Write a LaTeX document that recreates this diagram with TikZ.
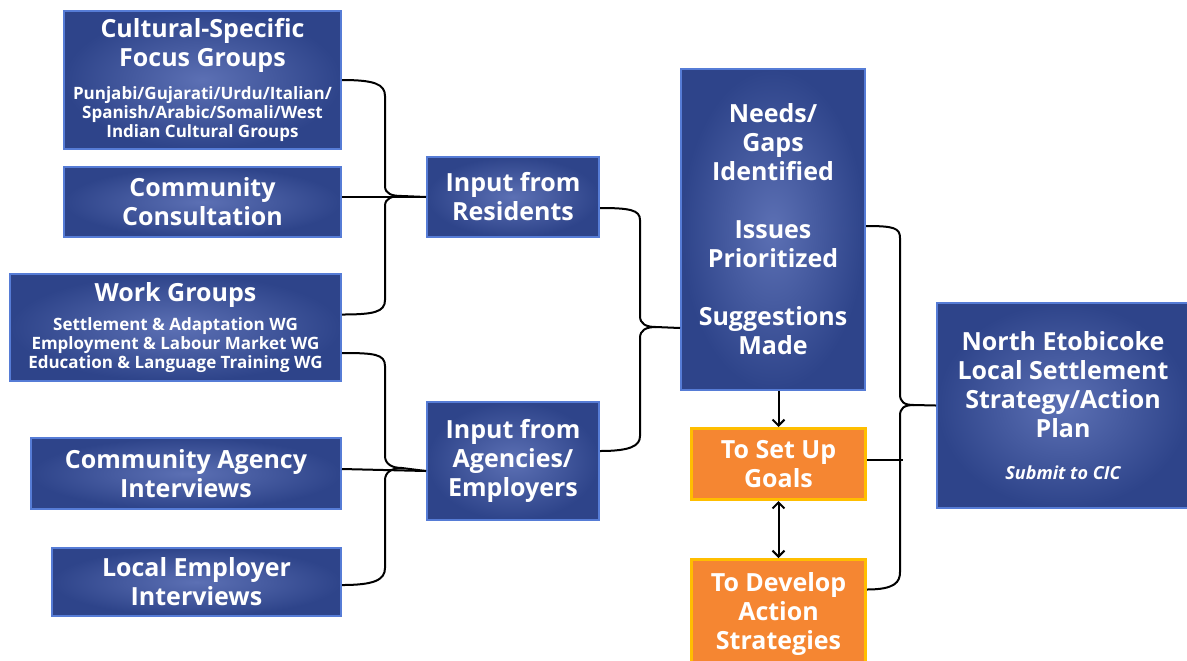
\documentclass[tikz,border=0pt]{standalone}
\usepackage{fontspec}
\setmainfont{Open Sans}
\usetikzlibrary{arrows.meta, positioning, calc}

\definecolor{panelmid}{RGB}{92,112,180}
\definecolor{panelout}{RGB}{46,68,138}
\definecolor{paneledge}{RGB}{86,124,214}
\definecolor{goalfill}{RGB}{245,134,50}
\definecolor{goaledge}{RGB}{255,190,0}

\newcommand\subtxt{\fontsize{8.5}{9.5}\selectfont}

\begin{document}
\begin{tikzpicture}[
    x=0.5pt, y=-0.5pt,
    panel/.style={rectangle, draw=paneledge, line width=1pt, inner color=panelmid, outer color=panelout,
        text=white, align=center, inner sep=2pt, font=\fontsize{12.5}{14.5}\selectfont\bfseries},
    goal/.style={rectangle, draw=goaledge, line width=1.5pt, fill=goalfill, minimum width=87pt,
        text=white, align=center, inner sep=2pt, font=\fontsize{12.5}{14.5}\selectfont\bfseries},
    link/.style={line width=1pt, line join=round},
    arrow/.style={-{Straight Barb[length=3pt, width=6pt]}, line width=1pt},
    twoway/.style={{Straight Barb[length=3pt, width=6pt]}-{Straight Barb[length=3pt, width=6pt]}, line width=1pt}
]
\useasboundingbox (0,0) rectangle (1187,660);

% sources, right-aligned column
\node[panel, minimum width=138.5pt, minimum height=69pt, anchor=north east] (focus) at (342,10)
    {Cultural-Specific\\Focus Groups\\[2pt]\subtxt Punjabi/Gujarati/Urdu/Italian/\\[-5pt]\subtxt Spanish/Arabic/Somali/West\\[-5pt]\subtxt Indian Cultural Groups};
\node[panel, minimum width=138.5pt, minimum height=35pt, anchor=north east] (consult) at (342,166)
    {Community\\Consultation};
\node[panel, minimum width=165.5pt, minimum height=53.5pt, anchor=north east] (workgrp) at (342,273)
    {Work Groups\\\subtxt Settlement \& Adaptation WG\\[-5pt]\subtxt Employment \& Labour Market WG\\[-5pt]\subtxt Education \& Language Training WG};
\node[panel, minimum width=155pt, minimum height=35.5pt, anchor=north east] (agency) at (342,437)
    {Community Agency\\Interviews};
\node[panel, minimum width=144.5pt, minimum height=34pt, below=18.5pt of agency.south east, anchor=north east] (employer)
    {Local Employer\\Interviews};

% inputs
\node[panel, minimum width=86pt, minimum height=40pt, anchor=north west] (residents) at (426,156)
    {Input from\\Residents};
\node[panel, minimum width=86pt, minimum height=59pt, below=81.5pt of residents] (agencies)
    {Input from\\Agencies/\\Employers};

% outcomes
\node[panel, minimum width=92pt, minimum height=160.5pt, anchor=north west] (needs) at (680,68)
    {Needs/\\Gaps\\Identified\\[14.5pt]Issues\\Prioritized\\[14.5pt]Suggestions\\Made};
\node[goal, minimum height=35.5pt, anchor=north west] (goals) at (690,427)
    {To Set Up\\Goals};
\node[goal, minimum height=54pt, below=28.5pt of goals] (develop)
    {To Develop\\Action\\Strategies};
\node[panel, minimum width=126pt, minimum height=102.5pt, anchor=north west] (plan) at (936,302)
    {North Etobicoke\\Local Settlement\\Strategy/Action\\Plan\\[6.5pt]\fontsize{9}{11}\selectfont\itshape Submit to CIC};

% brace into residents
\draw[link] (focus.east) .. controls +(32,0) and +(0,-12) .. (385,96) -- (385,186)
    .. controls +(0,8) and +(-10,0) .. (402,196) -- (residents.west);
\draw[link] ([yshift=6.5pt]workgrp.east) .. controls +(32,0) and +(0,12) .. (385,300) -- (385,206)
    .. controls +(0,-8) and +(-10,0) .. (402,196);
\draw[link] (consult.east |- residents.west) -- (residents.west);

% brace into agencies
\draw[link] ([yshift=-12.75pt]workgrp.east) .. controls +(32,0) and +(0,-12) .. (385,366) -- (385,456)
    .. controls +(0,8) and +(-10,0) .. (402,468) -- ([yshift=-5pt]agencies.west);
\draw[link] ([yshift=-1.5pt]employer.east) .. controls +(32,0) and +(0,12) .. (385,568) -- (385,480)
    .. controls +(0,-8) and +(-10,0) .. (402,468);
\draw[link] ([yshift=2.25pt]agency.east) -- ([yshift=-5pt]agencies.west);

% brace into needs
\draw[link] ([yshift=-5.5pt]residents.east) .. controls +(30,0) and +(0,-10) .. (640,220) -- (640,316)
    .. controls +(0,8) and +(-10,0) .. (656,327) -- ([yshift=-49.25pt]needs.west);
\draw[link] ([yshift=5pt]agencies.east) .. controls +(30,0) and +(0,10) .. (640,436) -- (640,338)
    .. controls +(0,-8) and +(-10,0) .. (656,327);

% brace into plan
\draw[link] ([yshift=1.75pt]needs.east) .. controls +(28,0) and +(0,-10) .. (900,238) -- (900,394)
    .. controls +(0,8) and +(-10,0) .. (914,405) -- (plan.west);
\draw[link] ([yshift=12pt]develop.east) .. controls +(28,0) and +(0,10) .. (900,572) -- (900,416)
    .. controls +(0,-8) and +(-10,0) .. (914,405);
\draw[link] ([yshift=2.25pt]goals.east) -- ++(36,0);

\draw[arrow] (needs.south -| goals.north) -- (goals.north);
\draw[twoway] (goals.south) -- (develop.north);
\end{tikzpicture}
\end{document}
